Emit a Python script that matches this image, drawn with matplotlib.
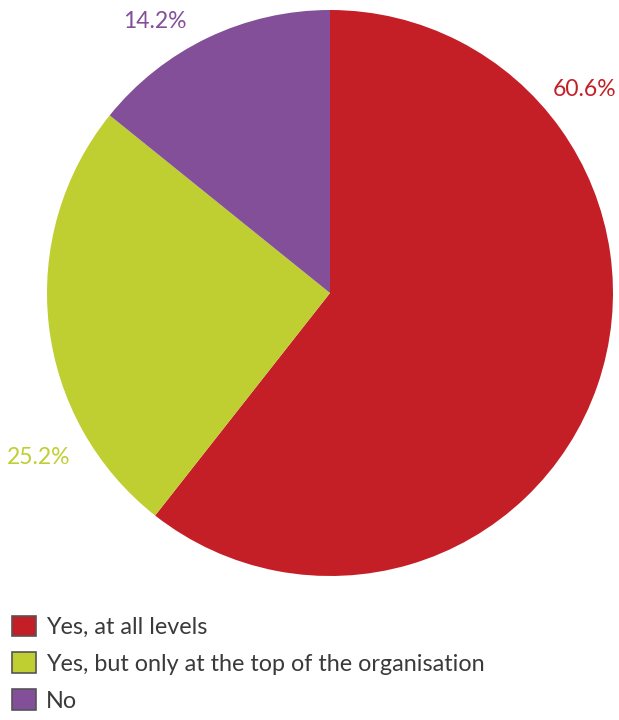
import matplotlib.pyplot as plt
from matplotlib.patches import Patch

plt.rcParams['font.family'] = ['Lato', 'DejaVu Sans']

labels = ['Yes, at all levels', 'Yes, but only at the top of the organisation', 'No']
values = [60.6, 25.2, 14.2]
colors = ['#C41F26', '#BFCE31', '#834F98']
# where each percentage sits, in pie units (radius 1, centre at 0)
label_pos = [(0.90, 0.72), (-1.03, -0.58), (-0.62, 0.96)]

fig = plt.figure(figsize=(6.19, 7.2), dpi=100)
ax = fig.add_axes([47 / 619, 144 / 720, 566 / 619, 566 / 720])

wedges, _ = ax.pie(values, colors=colors, startangle=90, counterclock=False,
                   radius=1, wedgeprops=dict(linewidth=0))
ax.set_xlim(-1, 1)
ax.set_ylim(-1, 1)
ax.set_aspect('equal')

for v, c, (x, y) in zip(values, colors, label_pos):
    ax.text(x, y, '%.1f%%' % v, color=c, fontsize=16.5,
            ha='center', va='center')

handles = [Patch(facecolor=c, edgecolor='#555555', linewidth=1.2) for c in colors]
leg = fig.legend(handles, labels, loc='upper left', bbox_to_anchor=(0.005, 0.158),
                 frameon=False, fontsize=16.8, handlelength=1.0, handleheight=1.0,
                 handletextpad=0.45, labelspacing=0.62, borderaxespad=0.0)
for t in leg.get_texts():
    t.set_color('#3a3a3a')

fig.savefig('out.png', dpi=100)
